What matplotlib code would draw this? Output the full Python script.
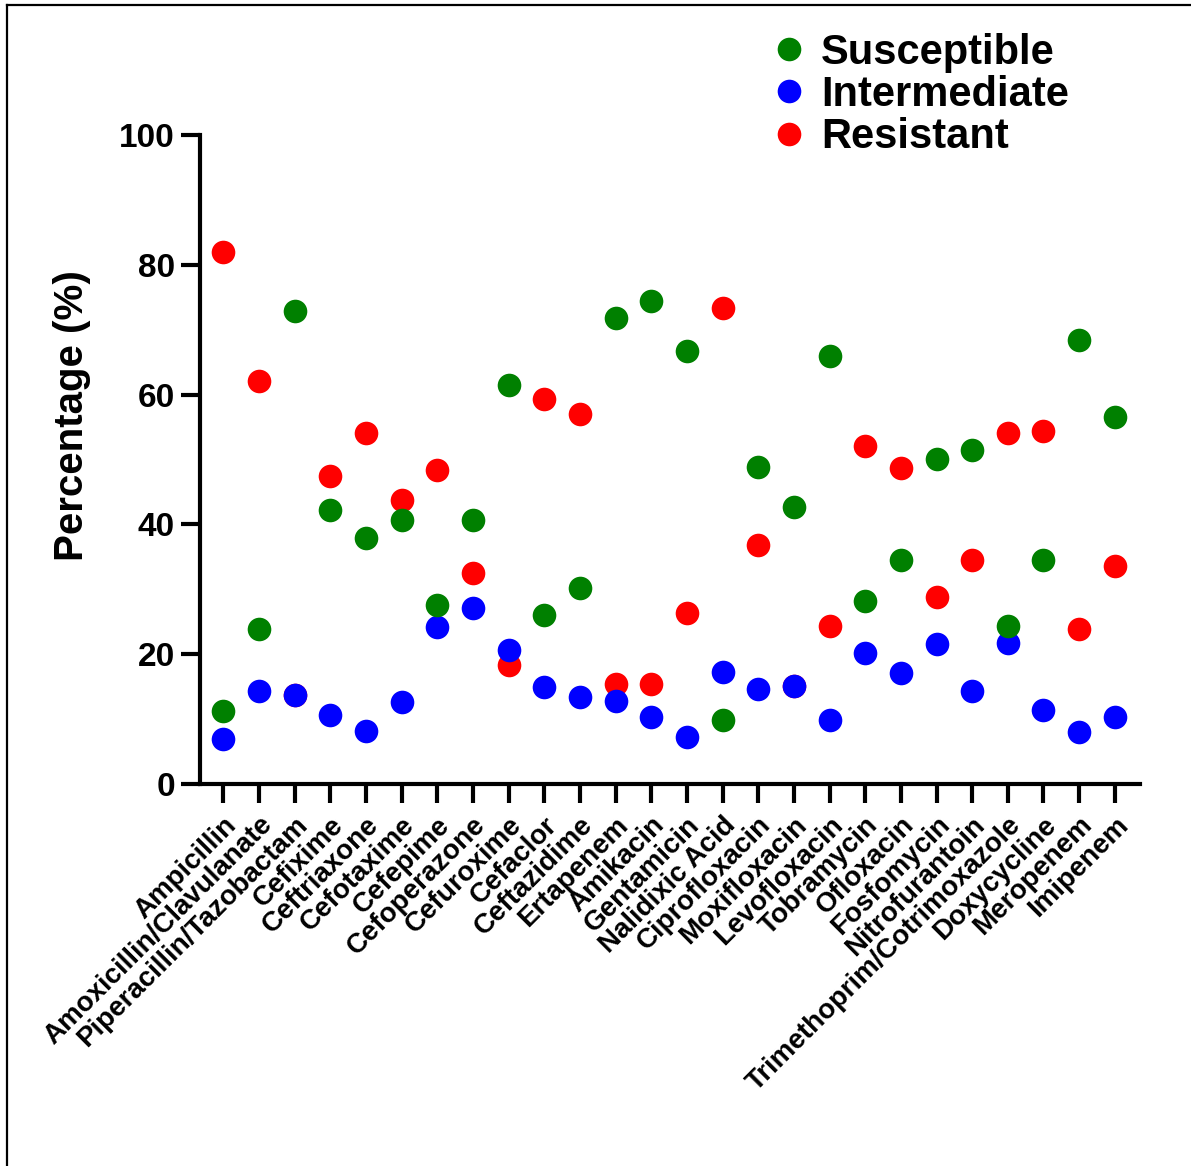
import matplotlib
matplotlib.use("Agg")
import matplotlib.pyplot as plt
import matplotlib.transforms as mtransforms
from matplotlib.lines import Line2D

plt.rcParams["font.family"] = ["Liberation Sans", "DejaVu Sans"]
plt.rcParams["font.weight"] = "bold"

antibiotics = [
    "Ampicillin", "Amoxicillin/Clavulanate", "Piperacillin/Tazobactam", "Cefixime",
    "Ceftriaxone", "Cefotaxime", "Cefepime", "Cefoperazone", "Cefuroxime", "Cefaclor",
    "Ceftazidime", "Ertapenem", "Amikacin", "Gentamicin", "Nalidixic Acid",
    "Ciprofloxacin", "Moxifloxacin", "Levofloxacin", "Tobramycin", "Ofloxacin",
    "Fosfomycin", "Nitrofurantoin", "Trimethoprim/Cotrimoxazole", "Doxycycline",
    "Meropenem", "Imipenem",
]
susceptible = [11.2, 23.9, 72.9, 42.2, 37.9, 40.7, 27.6, 40.7, 61.5, 26.0,
               30.2, 71.8, 74.4, 66.7, 9.9, 48.8, 42.7, 65.9, 28.2, 34.5,
               50.1, 51.5, 24.3, 34.5, 68.4, 56.5]
intermediate = [6.9, 14.3, 13.7, 10.6, 8.2, 12.6, 24.2, 27.1, 20.6, 14.9,
                13.4, 12.8, 10.3, 7.2, 17.3, 14.6, 15.1, 9.9, 20.2, 17.1,
                21.6, 14.3, 21.7, 11.4, 8.0, 10.3]
resistant = [82.0, 62.1, 13.7, 47.5, 54.1, 43.8, 48.4, 32.5, 18.3, 59.3,
             57.0, 15.4, 15.4, 26.3, 73.3, 36.8, 15.1, 24.3, 52.1, 48.7,
             28.8, 34.5, 54.1, 54.4, 23.9, 33.6]

series = [
    ("Susceptible", susceptible, "#008000", 4),
    ("Intermediate", intermediate, "#0000ff", 3),
    ("Resistant", resistant, "#ff0000", 2),
]

fig = plt.figure(figsize=(11.91, 11.66), dpi=100)
ax = fig.add_axes([0.168, 0.3276, 0.789, 0.5567])

x = list(range(len(antibiotics)))
for name, values, color, z in series:
    ax.plot(x, values, linestyle="none", marker="o", markersize=17,
            color=color, markeredgewidth=0, zorder=z, clip_on=False)

ax.set_xlim(-0.65, 25.7)
ax.set_ylim(0, 100)
ax.set_yticks([0, 20, 40, 60, 80, 100])
ax.set_xticks(x)
ax.set_xticklabels(antibiotics, rotation=45, ha="right", va="top",
                   rotation_mode="anchor", fontsize=20, fontweight="bold")
shift = mtransforms.ScaledTranslation(-18 / 100, -4 / 100, fig.dpi_scale_trans)
for lab in ax.get_xticklabels():
    lab.set_transform(lab.get_transform() + shift)
ax.tick_params(axis="y", labelsize=24, width=3, length=14, pad=4)
ax.tick_params(axis="x", width=3, length=14, pad=6)
for lab in ax.get_yticklabels():
    lab.set_fontweight("bold")
ax.set_ylabel("Percentage (%)", fontsize=29, fontweight="bold")
ax.yaxis.set_label_coords(-0.116, 0.567)

for side in ["top", "right"]:
    ax.spines[side].set_visible(False)
for side in ["left", "bottom"]:
    ax.spines[side].set_linewidth(3)

handles = [Line2D([], [], linestyle="none", marker="o", markersize=17,
                  color=c, markeredgewidth=0) for _, _, c, _ in series]
fig.legend(handles, [s[0] for s in series], loc="upper left",
           bbox_to_anchor=(768 / 1191, 1 - 33 / 1166), frameon=False,
           handlelength=1.0, handletextpad=0.28,
           labelspacing=0.05, borderpad=0, borderaxespad=0,
           prop={"size": 30, "weight": "bold"})

# frame lines on the left and top edges of the picture
fig.add_artist(Line2D([6.5 / 1191, 6.5 / 1191], [0, 1 - 5 / 1166],
                      transform=fig.transFigure, color="black", linewidth=1.6))
fig.add_artist(Line2D([6.5 / 1191, 1], [1 - 5 / 1166, 1 - 5 / 1166],
                      transform=fig.transFigure, color="black", linewidth=1.6))

fig.savefig("out.png", dpi=100)
